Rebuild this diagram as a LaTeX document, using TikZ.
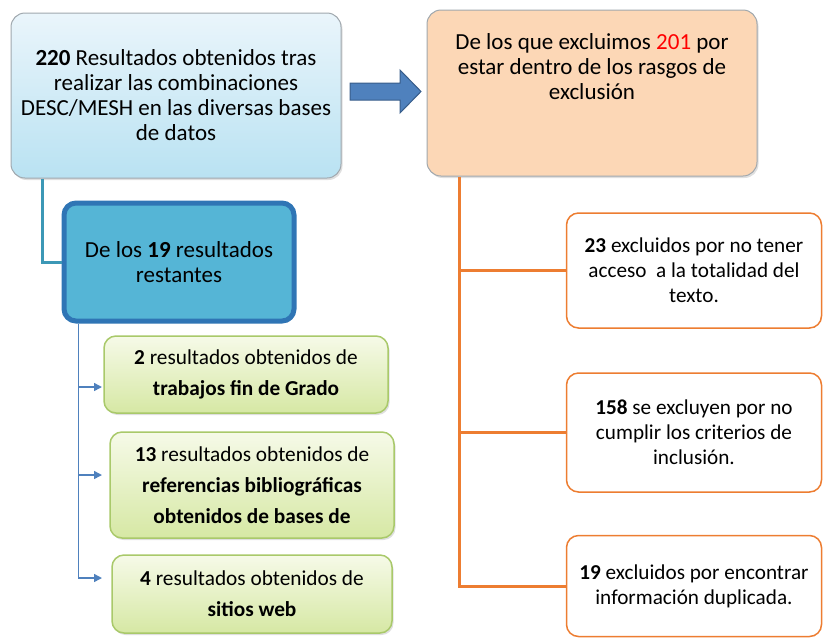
\documentclass[tikz,border=0pt]{standalone}
\usepackage{fontspec}
\setmainfont{Carlito}
\usetikzlibrary{positioning,arrows.meta,shadows}
\definecolor{skytop}{HTML}{EAF5FB}
\definecolor{skybot}{HTML}{B9E2F2}
\definecolor{peach}{HTML}{FCD7B6}
\definecolor{boxgray}{HTML}{A0A8AE}
\definecolor{midblue}{HTML}{55B5D6}
\definecolor{midedge}{HTML}{2F75B5}
\definecolor{limetop}{HTML}{F6FAE8}
\definecolor{limebot}{HTML}{D6E8A4}
\definecolor{limeedge}{HTML}{A9C96A}
\definecolor{exclorange}{HTML}{ED7D31}
\definecolor{tealline}{HTML}{3C98B6}
\definecolor{arrowblue}{HTML}{4F81BD}
\definecolor{arrowedge}{HTML}{385D8A}
\tikzset{
    soft shadow/.style = {
        drop shadow = {opacity=0.25, shadow xshift=1.5pt, shadow yshift=-2pt},
        },
    start box/.style = {
        draw = boxgray,
        line width = 1pt,
        rounded corners = 14pt,
        top color = skytop,
        bottom color = skybot,
        minimum width = 330pt,
        minimum height = 165pt,
        align = center,
        font = \fontsize{23}{25}\selectfont,
        soft shadow,
        },
    excl box/.style = {
        draw = boxgray,
        line width = 1pt,
        rounded corners = 14pt,
        fill = peach,
        minimum width = 330pt,
        minimum height = 166pt,
        soft shadow,
        },
    rest box/.style = {
        draw = midedge,
        line width = 5pt,
        rounded corners = 12pt,
        fill = midblue,
        minimum width = 230pt,
        minimum height = 118pt,
        align = center,
        font = \fontsize{23}{25}\selectfont,
        soft shadow,
        },
    source box/.style = {
        draw = limeedge,
        line width = 1.5pt,
        rounded corners = 12pt,
        top color = limetop,
        bottom color = limebot,
        align = center,
        font = \fontsize{21.3}{31}\selectfont,
        soft shadow,
        },
    reason box/.style = {
        draw = exclorange,
        line width = 1.5pt,
        rounded corners = 12pt,
        fill = white,
        minimum width = 255pt,
        align = center,
        font = \fontsize{21.2}{25}\selectfont,
        },
    plain text/.style = {
        align = center,
        font = \fontsize{23}{25}\selectfont,
        },
    excl line/.style = {
        draw = exclorange,
        line width = 3pt,
        },
    teal line/.style = {
        draw = tealline,
        line width = 3pt,
        },
    blue line/.style = {
        draw = arrowblue,
        line width = 1.5pt,
        },
    blue arrow/.style = {
        blue line,
        -{Triangle[length=8pt,width=8pt]},
        },
    block arrow/.style = {
        fill = arrowblue,
        draw = arrowedge,
        line width = 1pt,
        },
}

\begin{document}
\begin{tikzpicture}[x=1pt, y=-1pt]
            \useasboundingbox (0,0) rectangle (824,638);

            % first search and the excluded ones
            \node[start box] (res) at (176,95.5) {\textbf{220} Resultados obtenidos tras\\realizar las combinaciones\\DESC/MESH en las diversas bases\\de datos};
            \node[excl box] (excl) at (592,93) {};
            \node[plain text] (excltxt) at (592,67) {De los que excluimos \textcolor{red}{201} por\\estar dentro de los rasgos de\\exclusión};
            \fill[block arrow] (350,83) -- (400,83) -- (400,70) -- (421,91.5) -- (400,113) -- (400,100) -- (350,100) -- cycle;

            % reasons of exclusion
            \node[reason box, minimum height=115pt] (c23) at (694,270.5) {\textbf{23} excluidos por no tener\\acceso~ a la totalidad del\\texto.};
            \node[reason box, minimum height=119pt] (c158) at (694,432.5) {\textbf{158} se excluyen por no\\cumplir los criterios de\\inclusión.};
            \node[reason box, minimum height=101pt] (c19) at (694,586) {\textbf{19} excluidos por encontrar\\información duplicada.};

            \coordinate (trunk) at ([xshift=33pt]excl.south west);
            \draw[excl line] (trunk) |- (c19.west);
            \draw[excl line] (trunk |- c23.west) -- (c23.west);
            \draw[excl line] (trunk |- c158.west) -- (c158.west);

            % remaining results
            \node[rest box] (rest) at (179,262) {De los \textbf{19} resultados\\restantes};
            \draw[teal line] ([xshift=32pt]res.south west) |- (rest.west);

            \node[source box, minimum width=284pt, minimum height=77pt] (tfg) at (246,374.5) {\textbf{2} resultados obtenidos de\\\textbf{trabajos fin de Grado}};
            \node[source box, minimum width=284pt, minimum height=106pt] (refs) at (252,485) {\textbf{13} resultados obtenidos de\\\textbf{referencias bibliográficas}\\\textbf{obtenidos de bases de}};
            \node[source box, minimum width=280pt, minimum height=78pt] (web) at (252,594) {\textbf{4} resultados obtenidos de\\\textbf{sitios web}};

            \coordinate (stem) at ([xshift=17pt]rest.south west);
            \coordinate (a1) at (102,387);
            \coordinate (a2) at (102,475);
            \coordinate (a3) at (102,578);
            \draw[blue arrow] (stem) |- (a3);
            \draw[blue arrow] (stem |- a1) -- (a1);
            \draw[blue arrow] (stem |- a2) -- (a2);
        \end{tikzpicture}
\end{document}
